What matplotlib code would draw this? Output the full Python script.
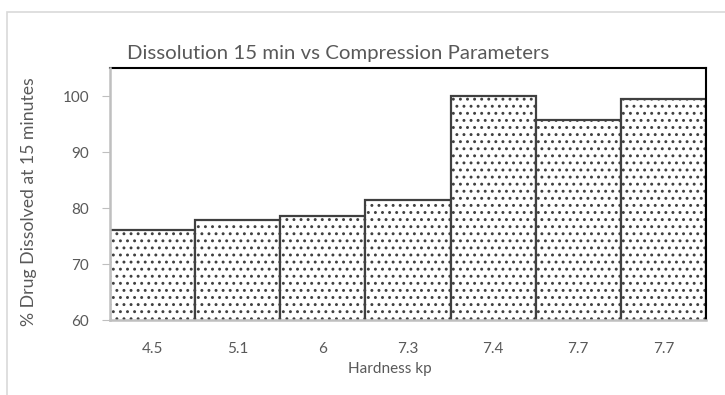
import matplotlib.pyplot as plt
from matplotlib.patches import Rectangle

# hardness of each batch and the % drug dissolved at 15 minutes
hardness = ["4.5", "5.1", "6", "7.3", "7.4", "7.7", "7.7"]
dissolved = [76.1, 77.9, 78.6, 81.4, 100.0, 95.8, 99.4]

W, H = 725, 395
DPI = 85            # lower dpi gives a coarser dot hatch
k = 100 / DPI       # keep sizes as if drawn at 100 dpi

plt.rcParams['font.family'] = ['Lato', 'DejaVu Sans']
plt.rcParams['hatch.color'] = '#2b2b2b'
plt.rcParams['hatch.linewidth'] = 1.1 * k

fig = plt.figure(figsize=(W / DPI, H / DPI), dpi=DPI)

# light frame around the chart
fig.patches.append(Rectangle((7 / W, -0.05), 1.0, 1 - 12 / H + 0.05,
                             transform=fig.transFigure, fill=False,
                             edgecolor='#d9d9d9', linewidth=1.2 * k))

ax = fig.add_axes([110 / W, 1 - 320 / H, 596 / W, 252 / H])

x = range(len(hardness))
ax.bar(x, dissolved, width=1.0, color='white', edgecolor='#404040',
       linewidth=1.6 * k, hatch='..', zorder=2)

ax.set_xlim(-0.5, len(hardness) - 0.5)
ax.set_ylim(60, 105)
ax.set_yticks([60, 70, 80, 90, 100])
ax.set_xticks(list(x))
ax.set_xticklabels(hardness)

for side in ['top', 'right']:
    ax.spines[side].set_color('black')
    ax.spines[side].set_linewidth(1.5 * k)
for side in ['bottom', 'left']:
    ax.spines[side].set_color('#bfbfbf')
    ax.spines[side].set_linewidth(1.8 * k)
    ax.spines[side].set_zorder(3)

ax.tick_params(axis='x', length=0, pad=16 * k, labelsize=11 * k, labelcolor='#595959')
ax.tick_params(axis='y', length=6 * k, width=0.8 * k, color='#bfbfbf', direction='out',
               pad=9 * k, labelsize=11 * k, labelcolor='#595959')

fig.text(127 / W, 1 - 53 / H, "Dissolution 15 min vs Compression Parameters",
         fontsize=14.7 * k, color='#595959', ha='left', va='center')
fig.text(29 / W, 1 - 202 / H, "% Drug Dissolved at 15 minutes",
         fontsize=12.7 * k, color='#595959', rotation=90, ha='center', va='center')
fig.text(390 / W, 1 - 369 / H, "Hardness kp",
         fontsize=11 * k, color='#595959', ha='center', va='center')

fig.savefig('out.png', dpi=DPI)
